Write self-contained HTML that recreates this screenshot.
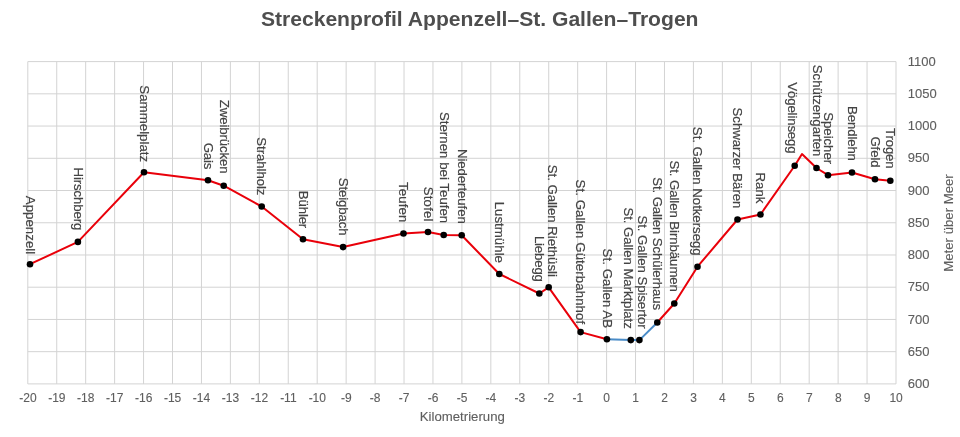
<!DOCTYPE html>
<html lang="de"><head><meta charset="utf-8"><title>Streckenprofil Appenzell–St. Gallen–Trogen</title>
<style>
html,body{margin:0;padding:0;background:#fff;}
body{width:960px;height:437px;overflow:hidden;font-family:"Liberation Sans",sans-serif;}
svg{display:block;}
svg text{font-family:"Liberation Sans",sans-serif;}
.title,.xt,.yt,.ax,.st{filter:grayscale(1);}
.title{font-size:21.1px;font-weight:bold;fill:#4e4e4e;}
.xt{font-size:12px;fill:#5e5e5e;stroke:#5e5e5e;stroke-width:0.12px;}
.yt{font-size:13px;fill:#5e5e5e;stroke:#5e5e5e;stroke-width:0.12px;}
.ax{font-size:13.2px;fill:#5e5e5e;stroke:#5e5e5e;stroke-width:0.12px;}
.st{font-size:13.3px;fill:#444;stroke:#444;stroke-width:0.18px;}
.grid line{stroke:#d3d3d3;stroke-width:1;}
</style></head><body>
<svg width="960" height="437" viewBox="0 0 960 437">
<rect width="960" height="437" fill="#fff"/>
<g>
<text class="title" x="479.7" y="26.45" text-anchor="middle">Streckenprofil Appenzell–St. Gallen–Trogen</text>
<g class="grid">
<line x1="27.80" y1="61.6" x2="27.80" y2="383.9"/>
<line x1="56.74" y1="61.6" x2="56.74" y2="383.9"/>
<line x1="85.68" y1="61.6" x2="85.68" y2="383.9"/>
<line x1="114.62" y1="61.6" x2="114.62" y2="383.9"/>
<line x1="143.56" y1="61.6" x2="143.56" y2="383.9"/>
<line x1="172.50" y1="61.6" x2="172.50" y2="383.9"/>
<line x1="201.44" y1="61.6" x2="201.44" y2="383.9"/>
<line x1="230.38" y1="61.6" x2="230.38" y2="383.9"/>
<line x1="259.32" y1="61.6" x2="259.32" y2="383.9"/>
<line x1="288.26" y1="61.6" x2="288.26" y2="383.9"/>
<line x1="317.20" y1="61.6" x2="317.20" y2="383.9"/>
<line x1="346.14" y1="61.6" x2="346.14" y2="383.9"/>
<line x1="375.08" y1="61.6" x2="375.08" y2="383.9"/>
<line x1="404.02" y1="61.6" x2="404.02" y2="383.9"/>
<line x1="432.96" y1="61.6" x2="432.96" y2="383.9"/>
<line x1="461.90" y1="61.6" x2="461.90" y2="383.9"/>
<line x1="490.84" y1="61.6" x2="490.84" y2="383.9"/>
<line x1="519.78" y1="61.6" x2="519.78" y2="383.9"/>
<line x1="548.72" y1="61.6" x2="548.72" y2="383.9"/>
<line x1="577.66" y1="61.6" x2="577.66" y2="383.9"/>
<line x1="606.60" y1="61.6" x2="606.60" y2="383.9"/>
<line x1="635.54" y1="61.6" x2="635.54" y2="383.9"/>
<line x1="664.48" y1="61.6" x2="664.48" y2="383.9"/>
<line x1="693.42" y1="61.6" x2="693.42" y2="383.9"/>
<line x1="722.36" y1="61.6" x2="722.36" y2="383.9"/>
<line x1="751.30" y1="61.6" x2="751.30" y2="383.9"/>
<line x1="780.24" y1="61.6" x2="780.24" y2="383.9"/>
<line x1="809.18" y1="61.6" x2="809.18" y2="383.9"/>
<line x1="838.12" y1="61.6" x2="838.12" y2="383.9"/>
<line x1="867.06" y1="61.6" x2="867.06" y2="383.9"/>
<line x1="896.00" y1="61.6" x2="896.00" y2="383.9"/>
<line x1="27.8" y1="383.90" x2="896.0" y2="383.90"/>
<line x1="27.8" y1="351.67" x2="896.0" y2="351.67"/>
<line x1="27.8" y1="319.44" x2="896.0" y2="319.44"/>
<line x1="27.8" y1="287.21" x2="896.0" y2="287.21"/>
<line x1="27.8" y1="254.98" x2="896.0" y2="254.98"/>
<line x1="27.8" y1="222.75" x2="896.0" y2="222.75"/>
<line x1="27.8" y1="190.52" x2="896.0" y2="190.52"/>
<line x1="27.8" y1="158.29" x2="896.0" y2="158.29"/>
<line x1="27.8" y1="126.06" x2="896.0" y2="126.06"/>
<line x1="27.8" y1="93.83" x2="896.0" y2="93.83"/>
<line x1="27.8" y1="61.60" x2="896.0" y2="61.60"/>
</g>
<g class="xt" text-anchor="middle">
<text x="27.90" y="402.2">-20</text>
<text x="56.84" y="402.2">-19</text>
<text x="85.78" y="402.2">-18</text>
<text x="114.72" y="402.2">-17</text>
<text x="143.66" y="402.2">-16</text>
<text x="172.60" y="402.2">-15</text>
<text x="201.54" y="402.2">-14</text>
<text x="230.48" y="402.2">-13</text>
<text x="259.42" y="402.2">-12</text>
<text x="288.36" y="402.2">-11</text>
<text x="317.30" y="402.2">-10</text>
<text x="346.24" y="402.2">-9</text>
<text x="375.18" y="402.2">-8</text>
<text x="404.12" y="402.2">-7</text>
<text x="433.06" y="402.2">-6</text>
<text x="462.00" y="402.2">-5</text>
<text x="490.94" y="402.2">-4</text>
<text x="519.88" y="402.2">-3</text>
<text x="548.82" y="402.2">-2</text>
<text x="577.76" y="402.2">-1</text>
<text x="606.70" y="402.2">0</text>
<text x="635.64" y="402.2">1</text>
<text x="664.58" y="402.2">2</text>
<text x="693.52" y="402.2">3</text>
<text x="722.46" y="402.2">4</text>
<text x="751.40" y="402.2">5</text>
<text x="780.34" y="402.2">6</text>
<text x="809.28" y="402.2">7</text>
<text x="838.22" y="402.2">8</text>
<text x="867.16" y="402.2">9</text>
<text x="896.10" y="402.2">10</text>
</g>
<g class="yt">
<text x="907.8" y="388.10">600</text>
<text x="907.8" y="355.87">650</text>
<text x="907.8" y="323.64">700</text>
<text x="907.8" y="291.41">750</text>
<text x="907.8" y="259.18">800</text>
<text x="907.8" y="226.95">850</text>
<text x="907.8" y="194.72">900</text>
<text x="907.8" y="162.49">950</text>
<text x="907.8" y="130.26">1000</text>
<text x="907.8" y="98.03">1050</text>
<text x="907.8" y="65.80">1100</text>
</g>
<text class="ax" x="462.3" y="420.6" text-anchor="middle">Kilometrierung</text>
<text class="ax" transform="translate(952.6,223.0) rotate(-90)" text-anchor="middle">Meter über Meer</text>
<polyline points="30.0,264.2 77.9,241.9 144.0,172.2 208.0,180.3 223.7,185.7 261.7,206.5 303.0,239.3 343.1,247.1 403.5,233.5 428.0,232.0 443.7,235.0 461.7,235.3 499.3,274.0 539.3,293.5 548.7,287.3 580.6,332.1 606.9,339.2" fill="none" stroke="#e9000a" stroke-width="2" stroke-linejoin="round" stroke-linecap="round"/>
<polyline points="657.3,322.5 674.3,303.5 697.5,266.7 737.5,219.5 760.5,214.5 794.7,165.7 802.0,154.0 816.5,168.0 828.0,175.2 852.0,172.5 875.0,179.2 890.3,180.7" fill="none" stroke="#e9000a" stroke-width="2" stroke-linejoin="round" stroke-linecap="round"/>
<polyline points="606.9,339.2 630.8,340.1 639.4,340.1 657.3,322.5" fill="none" stroke="#4a8cc8" stroke-width="2" stroke-linejoin="round" stroke-linecap="round"/>
<g fill="#000">
<circle cx="30.0" cy="264.2" r="3.3"/>
<circle cx="77.9" cy="241.9" r="3.3"/>
<circle cx="144.0" cy="172.2" r="3.3"/>
<circle cx="208.0" cy="180.3" r="3.3"/>
<circle cx="223.7" cy="185.7" r="3.3"/>
<circle cx="261.7" cy="206.5" r="3.3"/>
<circle cx="303.0" cy="239.3" r="3.3"/>
<circle cx="343.1" cy="247.1" r="3.3"/>
<circle cx="403.5" cy="233.5" r="3.3"/>
<circle cx="428.0" cy="232.0" r="3.3"/>
<circle cx="443.7" cy="235.0" r="3.3"/>
<circle cx="461.7" cy="235.3" r="3.3"/>
<circle cx="499.3" cy="274.0" r="3.3"/>
<circle cx="539.3" cy="293.5" r="3.3"/>
<circle cx="548.7" cy="287.3" r="3.3"/>
<circle cx="580.6" cy="332.1" r="3.3"/>
<circle cx="606.9" cy="339.2" r="3.3"/>
<circle cx="630.8" cy="340.1" r="3.3"/>
<circle cx="639.4" cy="340.1" r="3.3"/>
<circle cx="657.3" cy="322.5" r="3.3"/>
<circle cx="674.3" cy="303.5" r="3.3"/>
<circle cx="697.5" cy="266.7" r="3.3"/>
<circle cx="737.5" cy="219.5" r="3.3"/>
<circle cx="760.5" cy="214.5" r="3.3"/>
<circle cx="794.7" cy="165.7" r="3.3"/>
<circle cx="816.5" cy="168.0" r="3.3"/>
<circle cx="828.0" cy="175.2" r="3.3"/>
<circle cx="852.0" cy="172.5" r="3.3"/>
<circle cx="875.0" cy="179.2" r="3.3"/>
<circle cx="890.3" cy="180.7" r="3.3"/>
</g>
<g class="st" text-anchor="end">
<text transform="translate(25.80,254.20) rotate(90)" textLength="58.41">Appenzell</text>
<text transform="translate(73.70,230.40) rotate(90)" textLength="62.80">Hirschberg</text>
<text transform="translate(139.80,162.20) rotate(90)" textLength="76.86">Sammelplatz</text>
<text transform="translate(203.80,169.30) rotate(90)" textLength="26.59">Gais</text>
<text transform="translate(219.50,173.70) rotate(90)" textLength="73.89">Zweibrücken</text>
<text transform="translate(257.10,195.50) rotate(90)" textLength="58.24">Strahlholz</text>
<text transform="translate(298.80,228.30) rotate(90)" textLength="37.44">Bühler</text>
<text transform="translate(338.90,235.60) rotate(90)" textLength="57.91">Steigbach</text>
<text transform="translate(399.30,222.50) rotate(90)" textLength="40.44">Teufen</text>
<text transform="translate(423.80,221.50) rotate(90)" textLength="34.77">Stofel</text>
<text transform="translate(439.50,223.25) rotate(90)" textLength="111.39">Sternen bei Teufen</text>
<text transform="translate(457.50,223.80) rotate(90)" textLength="74.89">Niederteufen</text>
<text transform="translate(495.10,263.00) rotate(90)" textLength="61.36">Lustmühle</text>
<text transform="translate(535.40,282.00) rotate(90)" textLength="46.08">Liebegg</text>
<text transform="translate(547.50,276.90) rotate(90)" textLength="112.18">St. Gallen Riethüsli</text>
<text transform="translate(576.40,324.20) rotate(90)" textLength="144.66">St. Gallen Güterbahnhof</text>
<text transform="translate(602.70,328.10) rotate(90)" textLength="79.59">St. Gallen AB</text>
<text transform="translate(623.60,328.80) rotate(90)" textLength="121.42">St. Gallen Marktplatz</text>
<text transform="translate(637.70,328.80) rotate(90)" textLength="113.40">St. Gallen Spisertor</text>
<text transform="translate(653.10,310.20) rotate(90)" textLength="132.92">St. Gallen Schülerhaus</text>
<text transform="translate(669.70,292.00) rotate(90)" textLength="131.48">St. Gallen Birnbäumen</text>
<text transform="translate(693.30,255.70) rotate(90)" textLength="128.84">St. Gallen Notkersegg</text>
<text transform="translate(733.30,208.50) rotate(90)" textLength="101.00">Schwarzer Bären</text>
<text transform="translate(756.30,203.50) rotate(90)" textLength="31.05">Rank</text>
<text transform="translate(787.70,153.70) rotate(90)" textLength="71.45">Vögelinsegg</text>
<text transform="translate(813.30,156.50) rotate(90)" textLength="91.66">Schützengarten</text>
<text transform="translate(823.80,164.20) rotate(90)" textLength="51.98">Speicher</text>
<text transform="translate(847.80,161.00) rotate(90)" textLength="54.95">Bendlehn</text>
<text transform="translate(870.80,167.70) rotate(90)" textLength="31.30">Gfeld</text>
<text transform="translate(886.10,168.70) rotate(90)" textLength="40.64">Trogen</text>
</g>
</g>
</svg>
</body></html>
